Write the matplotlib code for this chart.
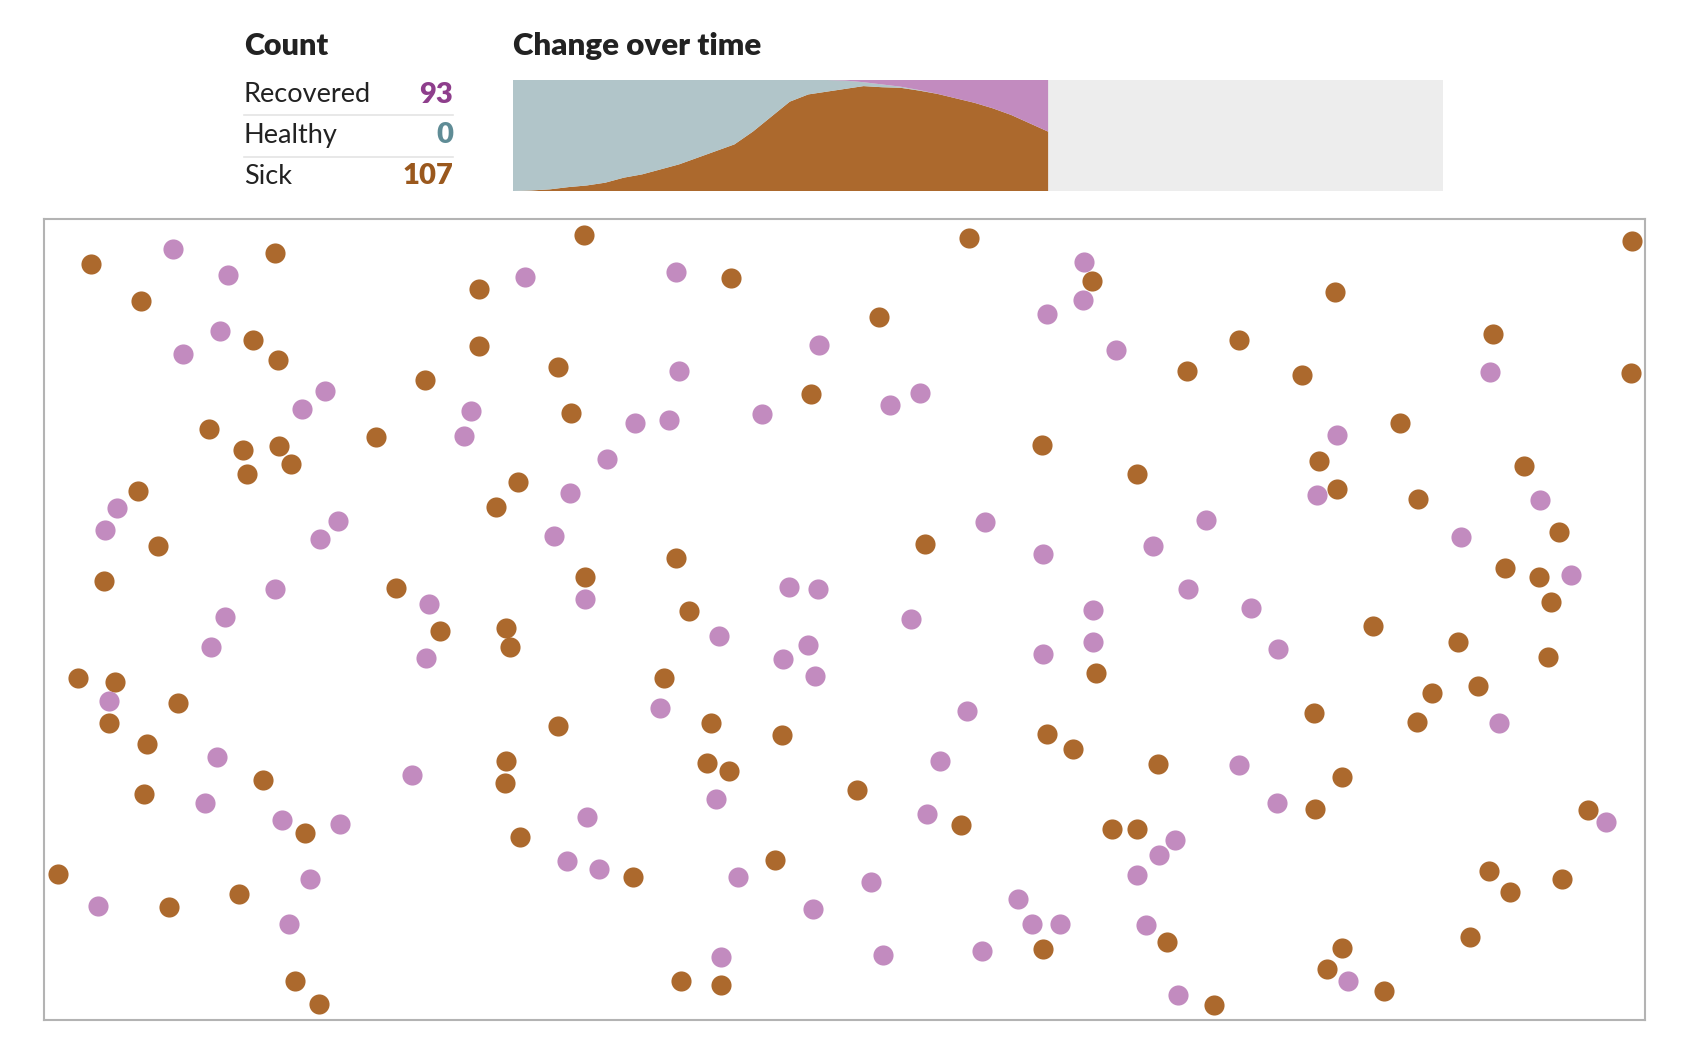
"""
Outbreak simulation snapshot: count table, stacked area over time, dot field.
"""

import numpy as np
import matplotlib
matplotlib.use("Agg")
import matplotlib.pyplot as plt

# ----------------------------
# Data
# ----------------------------
# count table
labels = ["Recovered", "Healthy", "Sick"]
counts = [93, 0, 107]

# change over time (people per frame sample, total 200)
sick_t = [0, 1, 3, 7, 10, 15, 24, 30, 39, 48, 60, 72, 84, 107, 134,
          161, 174, 179, 184, 189, 187, 186, 181, 175, 167, 159, 149, 137, 122, 107]
recovered_t = [0, 0, 0, 0, 0, 0, 0, 0, 0, 0, 0, 0, 0, 0, 0,
               0, 0, 0, 1, 4, 8, 12, 18, 25, 33, 41, 51, 63, 78, 93]
total_frames = 50.4   # run length; only part has been played so far

# dot positions (screen units of the simulation box)
recovered_x = [161, 212, 488, 629, 1008, 1007,
               170, 205, 762, 974, 1038,
               302, 281, 632, 1386, 438, 591, 622, 709, 828, 856, 432, 1244,
               109, 98, 565, 530, 1225, 1432, 314, 298, 916, 1122,
               515, 1072, 1359, 970, 544, 256, 399, 734, 761, 1105, 1461, 209, 847, 1017, 1164,
               196, 669, 752, 728, 758, 970, 1017, 1189, 396, 101, 614,
               899, 1394, 202, 874, 1152, 383,
               191, 666, 1188, 546, 862, 262, 316, 1093, 1078, 1494, 527, 557, 288, 686, 810, 1058,
               91, 269, 756, 947, 960, 986, 1066, 671, 821, 913, 1254, 1096]
recovered_y = [232, 256, 258, 253, 244, 279,
               330, 308, 321, 292, 326,
               364, 381, 345, 346, 383, 394, 391, 385, 377, 366, 406, 405,
               473, 493, 427, 459, 461, 465, 485, 502, 486, 484,
               499, 508, 500, 516, 557, 548, 562, 546, 548, 548, 535, 574, 576, 568, 566,
               602, 592, 600, 613, 629, 609, 597, 604, 612, 652, 659,
               662, 673, 704, 708, 712, 721,
               747, 743, 747, 760, 757, 763, 767, 782, 796, 765, 801, 809, 818, 816, 821, 814,
               843, 860, 846, 836, 860, 860, 861, 890, 889, 885, 913, 926]

sick_x = [85, 256, 543, 446, 680, 901, 1016, 1242, 1518,
          131, 235, 259, 446, 818, 1152, 1389,
          395, 519, 1104, 1211, 1517, 531, 754, 194, 350, 260, 226, 271, 969, 1302,
          230, 128, 482, 461, 1058, 1227, 1244, 1417, 1319, 1450,
          147, 860, 629, 97, 544, 368, 1400, 1431, 1443, 641,
          409, 471, 474, 1019, 1277, 1356, 1440, 73, 107, 618, 166, 1375, 1332,
          101, 661, 519, 1222, 1318, 137, 727, 974, 998, 471, 658, 678, 1077, 245, 470, 1248, 134, 797,
          1223, 284, 894, 1034, 1058, 1477, 484, 589, 721, 54, 1385, 1453, 1404,
          157, 222, 1085, 1367, 970, 1248, 1234, 274, 633, 671, 1287, 1129, 297]
sick_y = [246, 236, 219, 269, 259, 222, 262, 272, 224,
          280, 317, 335, 322, 295, 317, 311,
          354, 342, 345, 349, 347, 384, 367, 399, 407, 415, 419, 432, 414, 394,
          441, 457, 449, 472, 441, 429, 455, 434, 464, 495,
          508, 506, 519, 541, 537, 547, 529, 537, 560, 569,
          587, 584, 602, 626, 583, 597, 611, 631, 635, 631, 654, 638, 645,
          673, 673, 676, 663, 672, 692, 684, 683, 697, 708, 710, 717, 711, 726, 729, 723, 739, 735,
          753, 775, 768, 771, 771, 754, 779, 816, 800, 813, 810, 818, 830,
          844, 832, 876, 872, 883, 882, 902, 913, 913, 916, 922, 935, 934]

# ----------------------------
# Style
# ----------------------------
W, H = 1686, 1060
DARK = "#222222"
C_REC, C_HEALTHY, C_SICK = "#c28bbf", "#b1c5c9", "#ac692d"
NUM_COLORS = ["#8e3e8c", "#5f8c96", "#9a581d"]

plt.rcParams["font.family"] = ["Lato", "DejaVu Sans"]


def fx(px):
    return px / W


def fy(py):
    return 1 - py / H


fig = plt.figure(figsize=(W / 100, H / 100), dpi=100)

# ----------------------------
# Count table
# ----------------------------
fig.text(fx(244), fy(46), "Count", fontsize=22, fontweight="heavy",
         color=DARK, va="center", ha="left")
row_y = [95, 135, 176]
for lab, n, col, y in zip(labels, counts, NUM_COLORS, row_y):
    fig.text(fx(244), fy(y), lab, fontsize=19.5, color=DARK, va="center", ha="left")
    fig.text(fx(453), fy(y), str(n), fontsize=21, fontweight="heavy",
             color=col, va="center", ha="right")
for y in [115, 157]:
    fig.add_artist(plt.Line2D([fx(244), fx(453)], [fy(y), fy(y)],
                              color="#e4e4e4", lw=1.2))

# ----------------------------
# Change over time
# ----------------------------
fig.text(fx(513), fy(46), "Change over time", fontsize=22.5, fontweight="heavy",
         color=DARK, va="center", ha="left")
ax_t = fig.add_axes([fx(513), fy(191), (1443 - 513) / W, (191 - 80) / H])
t = np.arange(len(sick_t))
sick_arr = np.array(sick_t)
rec_arr = np.array(recovered_t)
healthy_arr = 200 - sick_arr - rec_arr
ax_t.stackplot(t, sick_arr, healthy_arr, rec_arr,
               colors=[C_SICK, C_HEALTHY, C_REC], linewidth=0)
ax_t.set_facecolor("#ededed")
ax_t.set_xlim(0, total_frames)
ax_t.set_ylim(0, 200)
ax_t.set_xticks([])
ax_t.set_yticks([])
for s in ax_t.spines.values():
    s.set_visible(False)

# ----------------------------
# Dot field
# ----------------------------
ax = fig.add_axes([fx(44), fy(1020), (1645 - 44) / W, (1020 - 219) / H])
ax.scatter(sick_x, sick_y, s=210, color=C_SICK, linewidths=0)
ax.scatter(recovered_x, recovered_y, s=210, color=C_REC, linewidths=0)
ax.set_xlim(41, 1530)
ax.set_ylim(949, 204)
ax.set_xticks([])
ax.set_yticks([])
for s in ax.spines.values():
    s.set_color("#b3b3b3")
    s.set_linewidth(1.5)

fig.savefig("out.png", dpi=100)
